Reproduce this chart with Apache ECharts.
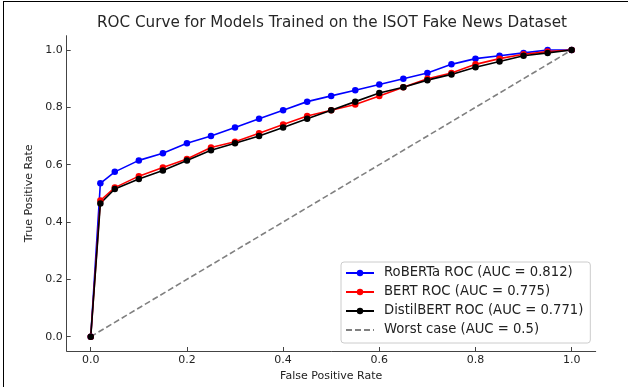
<!DOCTYPE html>
<html>
<head>
<meta charset="utf-8">
<script src="https://cdn.jsdelivr.net/npm/echarts@6/dist/echarts.min.js"></script>
<style>
  html, body { margin: 0; padding: 0; background: #fff; }
  #chart { width: 628px; height: 387px; position: relative; }
  #frame { position: absolute; left: 3px; top: 1px; right: -10px; bottom: -10px;
           border-left: 1.5px solid #000; border-top: 1.5px solid #000; pointer-events: none; }
</style>
</head>
<body>
<div style="position:relative;width:628px;height:387px;overflow:hidden;">
  <div id="chart"></div>
  <div id="frame"></div>
</div>
<script>
// ---- data ----
const fpr = [0, 0.02, 0.05, 0.10, 0.15, 0.20, 0.25, 0.30, 0.35, 0.40, 0.45, 0.50, 0.55, 0.60, 0.65, 0.70, 0.75, 0.80, 0.85, 0.90, 0.95, 1.00];
const tprRoberta    = [0, 0.535, 0.575, 0.615, 0.64, 0.675, 0.70, 0.73, 0.76, 0.79, 0.82, 0.84, 0.86, 0.88, 0.90, 0.92, 0.95, 0.97, 0.98, 0.99, 1.00, 1.00];
const tprBert       = [0, 0.475, 0.52, 0.56, 0.59, 0.62, 0.66, 0.68, 0.71, 0.74, 0.77, 0.79, 0.81, 0.84, 0.87, 0.90, 0.92, 0.95, 0.97, 0.985, 0.995, 1.00];
const tprDistilbert = [0, 0.465, 0.515, 0.55, 0.58, 0.615, 0.65, 0.675, 0.70, 0.73, 0.76, 0.79, 0.82, 0.85, 0.87, 0.895, 0.915, 0.94, 0.96, 0.98, 0.99, 1.00];
const worstX = [0, 1];
const worstY = [0, 1];
const seriesNames = ['RoBERTa ROC (AUC = 0.812)', 'BERT ROC (AUC = 0.775)', 'DistilBERT ROC (AUC = 0.771)', 'Worst case (AUC = 0.5)'];
const xTicks = [0.0, 0.2, 0.4, 0.6, 0.8, 1.0];
const yTicks = [0.0, 0.2, 0.4, 0.6, 0.8, 1.0];
const titleText = 'ROC Curve for Models Trained on the ISOT Fake News Dataset';
const xLabel = 'False Positive Rate';
const yLabel = 'True Positive Rate';

// ---- chart ----
const FONT = 'DejaVu Sans';
const pairs = (xs, ys) => xs.map((x, i) => [x, ys[i]]);
const chart = echarts.init(document.getElementById('chart'), null, { renderer: 'canvas' });

const lineSeries = (name, ys, color) => ({
  name, type: 'line', data: pairs(fpr, ys),
  symbol: 'circle', symbolSize: 6.5, showSymbol: true,
  lineStyle: { color, width: 1.6 },
  itemStyle: { color, borderWidth: 0 },
  emphasis: { disabled: true },
  animation: false
});

const axisCommon = {
  type: 'value',
  min: -0.05, max: 1.05,
  axisLine: { show: true, onZero: false, lineStyle: { color: '#444', width: 1 } },
  axisTick: { show: true, inside: true, length: 4, lineStyle: { color: '#444', width: 1 } },
  splitLine: { show: false },
  nameTextStyle: { fontFamily: FONT, fontSize: 11, color: '#222' }
};

chart.setOption({
  animation: false,
  backgroundColor: '#fff',
  title: {
    text: titleText, left: 332, top: 16, textAlign: 'center',
    padding: 0,
    textStyle: { fontFamily: FONT, fontSize: 15.2, fontWeight: 'normal', color: '#262626' }
  },
  grid: { left: 66.7, right: 32.3, top: 35.7, bottom: 36, containLabel: false },
  xAxis: Object.assign({}, axisCommon, {
    name: xLabel, nameLocation: 'middle', nameGap: 18,
    axisTick: Object.assign({}, axisCommon.axisTick, { customValues: xTicks }),
    axisLabel: { customValues: xTicks, margin: 4, fontFamily: FONT, fontSize: 11, color: '#222',
                 formatter: v => v.toFixed(1) }
  }),
  yAxis: Object.assign({}, axisCommon, {
    name: yLabel, nameLocation: 'middle', nameGap: 27,
    axisTick: Object.assign({}, axisCommon.axisTick, { customValues: yTicks }),
    axisLabel: { customValues: yTicks, margin: 4, fontFamily: FONT, fontSize: 11, color: '#222',
                 formatter: v => v.toFixed(1) }
  }),
  legend: {
    data: [
      seriesNames[0], seriesNames[1], seriesNames[2],
      { name: seriesNames[3], itemStyle: { opacity: 0 } }
    ],
    orient: 'vertical', left: 341, top: 262,
    itemWidth: 28, itemHeight: 8, itemGap: 5,
    padding: [4, 7, 6, 4],
    backgroundColor: 'rgba(255,255,255,0.8)',
    borderColor: '#cccccc', borderWidth: 1, borderRadius: 3,
    textStyle: { fontFamily: FONT, fontSize: 13.2, color: '#222', lineHeight: 14, padding: [0, 0, 0, 5] },
    selectedMode: false
  },
  series: [
    lineSeries(seriesNames[0], tprRoberta, '#0000ff'),
    lineSeries(seriesNames[1], tprBert, '#ff0000'),
    lineSeries(seriesNames[2], tprDistilbert, '#000000'),
    {
      name: seriesNames[3], type: 'line', data: pairs(worstX, worstY),
      symbol: 'none',
      lineStyle: { color: '#808080', width: 1.6, type: [6, 3] },
      itemStyle: { color: '#808080' },
      emphasis: { disabled: true },
      animation: false
    }
  ]
});
</script>
</body>
</html>
